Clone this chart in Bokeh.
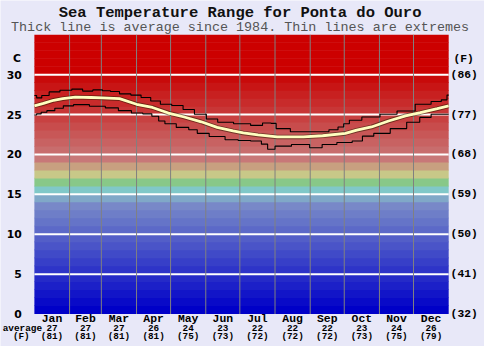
from bokeh.plotting import figure
from bokeh.models import Range1d
from bokeh.embed import file_html
from bokeh.resources import INLINE
from bokeh.core.properties import value

# ---- data ----
months = ["Jan", "Feb", "Mar", "Apr", "May", "Jun", "Jul", "Aug", "Sep", "Oct", "Nov", "Dec"]
month_days = [31, 28, 31, 30, 31, 30, 31, 31, 30, 31, 30, 31]
avg_c = [27, 27, 27, 26, 24, 23, 22, 22, 22, 23, 24, 26]
avg_f = [81, 81, 81, 81, 75, 73, 72, 72, 72, 73, 75, 79]

c_ticks = [0, 5, 10, 15, 20, 25, 30]
f_labels = ["(32)", "(41)", "(50)", "(59)", "(68)", "(77)", "(86)"]

max_day = [0, 4, 9, 17, 28, 38, 47, 56, 64, 70, 80, 90, 98, 107, 115, 127, 135, 147, 156, 167,
           184, 197, 205, 212, 214, 237, 254, 265, 270, 275, 280, 297, 312, 327, 344, 355, 362, 365]
max_c = [27.4, 27.1, 27.4, 27.85, 28.05, 28.2, 27.95, 28.1, 28.0, 27.9, 27.6, 27.45, 27.15, 26.7,
         26.3, 26.15, 25.65, 25.05, 24.45, 24.05, 23.85, 23.65, 23.95, 23.9, 23.25, 22.85, 22.85,
         23.1, 23.45, 23.85, 24.3, 24.7, 25.05, 25.45, 26.3, 26.65, 26.85, 27.45]

mean_day = [0, 8, 17, 25, 36, 50, 60, 75, 90, 104, 118, 132, 147, 161, 175, 184, 197, 214, 237,
            254, 274, 284, 297, 312, 327, 340, 355, 365]
mean_c = [26.1, 26.4, 26.8, 27.0, 27.2, 27.15, 27.1, 27.0, 26.3, 25.9, 25.2, 24.7, 24.1, 23.4,
          22.95, 22.7, 22.45, 22.2, 22.2, 22.35, 22.65, 23.05, 23.45, 24.2, 24.85, 25.25, 25.75, 26.1]

min_day = [0, 4, 8, 14, 22, 29, 40, 57, 68, 80, 91, 100, 107, 112, 118, 132, 140, 147, 161, 175,
           184, 197, 203, 208, 216, 237, 248, 259, 274, 286, 292, 306, 321, 335, 344, 355, 365]
min_c = [24.95, 25.1, 25.3, 25.5, 25.8, 26.1, 26.25, 26.05, 25.85, 25.5, 25.2, 25.1, 24.8, 24.2,
         23.85, 23.4, 23.1, 22.65, 22.25, 21.85, 21.75, 21.7, 21.3, 20.65, 21.05, 21.25, 20.85,
         21.25, 21.5, 21.7, 22.3, 22.65, 23.25, 24.05, 24.65, 25.05, 25.05]

# ---- derived ----
starts = [sum(month_days[:i]) for i in range(12)]
year_len = sum(month_days)
mid_days = [s + d / 2 for s, d in zip(starts, month_days)]
bounds = starts[1:]
top_c = 35


def band_color(i):
    special = {14: (128, 168, 200), 15: (128, 200, 200), 16: (136, 200, 136),
               17: (200, 200, 136), 18: (200, 160, 128), 19: (200, 120, 120)}
    if i in special:
        r, g, b = special[i]
    elif i < 14:
        r, g, b = round(i * 9.2), round(i * 10.5), 200
    else:
        v = max(0, 120 - (i - 19) * 11)
        r, g, b = (200 if i < 30 else 204), v, v
    return "#%02x%02x%02x" % (r, g, b)


band_lo = list(range(top_c))
band_hi = [min(b + 1.08, top_c) for b in band_lo]
band_cols = [band_color(i) for i in band_lo]

bg = "#e8e8f8"
# the frame fills the whole canvas; the chart area is 0..365 days x 0..35 C inside it
p = figure(width=484, height=346, x_range=Range1d(-29.85, 396.55), y_range=Range1d(-4.075, 39.31),
           output_backend="svg", toolbar_location=None,
           x_axis_location=None, y_axis_location=None,
           min_border=0, background_fill_color=bg, border_fill_color=bg, outline_line_color=None)
p.grid.visible = False

p.quad(left=0, right=year_len, bottom=band_lo, top=band_hi, fill_color=band_cols, line_color=None)

grid_y = c_ticks[1:]
p.segment(x0=0, x1=year_len, y0=grid_y, y1=grid_y, line_color="white", line_width=2)
p.segment(x0=bounds, x1=bounds, y0=0, y1=top_c, line_color="#808080", line_width=1)

p.step(max_day, max_c, mode="center", line_color="black", line_width=1.1)
p.step(min_day, min_c, mode="center", line_color="black", line_width=1.1)
p.line(mean_day, mean_c, line_color="#2a1a00", line_alpha=0.55, line_width=4.6)
p.line(mean_day, mean_c, line_color="#ffffc0", line_width=2.8)

mono = value("Liberation Mono")
sans = value("DejaVu Sans")

# y-axis tick labels (C left, F right)
p.text(x=-11.1, y=c_ticks, text=[str(t) for t in c_ticks], text_font=sans, text_font_style="bold",
       text_font_size=value("10.8px"), text_align="right", text_baseline="middle", text_color="black")
p.text(x=366.7, y=c_ticks, text=f_labels, text_font=mono, text_font_style="bold",
       text_font_size=value("11.3px"), text_align="left", text_baseline="middle", text_color="black")
p.text(x=[-15.35], y=[32.1], text=["C"], text_font=sans, text_font_style="bold",
       text_font_size=value("10.8px"), text_align="center", text_baseline="middle", text_color="black")
p.text(x=[378.2], y=[32.0], text=["(F)"], text_font=mono, text_font_style="bold",
       text_font_size=value("11.3px"), text_align="center", text_baseline="middle", text_color="black")

# month rows
p.text(x=mid_days, y=-0.6, text=months, text_font=mono, text_font_style="bold",
       text_font_size=value("11.4px"), text_align="center", text_baseline="middle", text_color="black")
p.text(x=mid_days, y=-1.8, text=[str(v) for v in avg_c], text_font=mono, text_font_style="bold",
       text_font_size=value("9.3px"), text_align="center", text_baseline="middle", text_color="black")
p.text(x=mid_days, y=-2.88, text=["(%d)" % v for v in avg_f], text_font=mono, text_font_style="bold",
       text_font_size=value("9.3px"), text_align="center", text_baseline="middle", text_color="black")
p.text(x=[-10.6], y=[-1.8], text=["average"], text_font=mono, text_font_style="bold",
       text_font_size=value("9.4px"), text_align="center", text_baseline="middle", text_color="black")
p.text(x=[-11.5], y=[-2.88], text=["(F)"], text_font=mono, text_font_style="bold",
       text_font_size=value("9.3px"), text_align="center", text_baseline="middle", text_color="black")

# titles
p.text(x=[181.2], y=[37.76], text=["Sea Temperature Range for Ponta do Ouro"], text_font=mono,
       text_font_style="bold", text_font_size=value("15.5px"), text_align="center",
       text_baseline="middle", text_color="#111111")
p.text(x=[181.2], y=[35.92], text=["Thick line is average since 1984. Thin lines are extremes"],
       text_font=mono, text_font_size=value("13.4px"), text_align="center",
       text_baseline="middle", text_color="#555555")

open("out.html", "w").write(file_html(p, INLINE))
